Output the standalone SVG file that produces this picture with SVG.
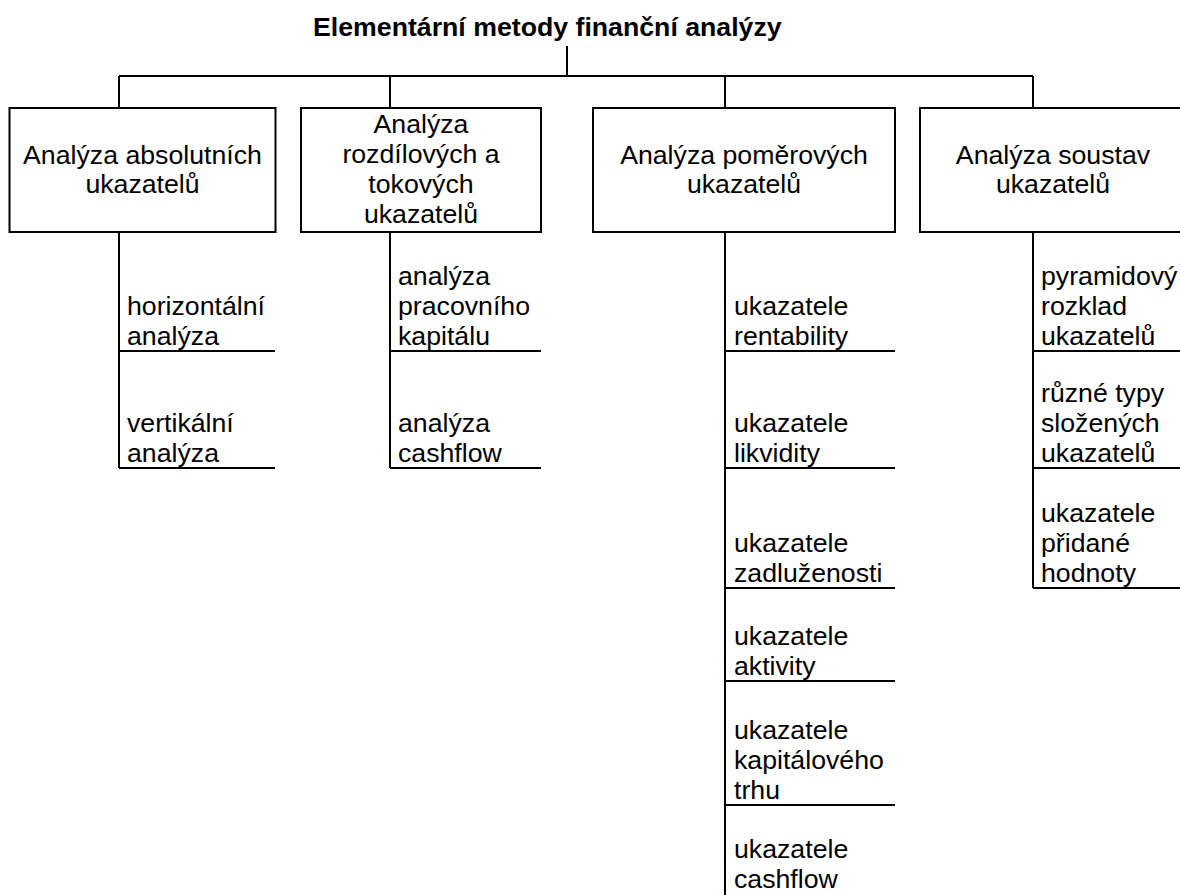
<svg xmlns="http://www.w3.org/2000/svg" width="1180" height="895" viewBox="0 0 1180 895">
<style>
  text { font-family: "Liberation Sans", Arial, sans-serif; font-size: 26.7px; fill: #000; }
  .title { font-weight: bold; }
  .c { text-anchor: middle; }
  .box { fill: #fff; stroke: #000; stroke-width: 2; }
  .ln { stroke: #000; stroke-width: 2; fill: none; }
</style>
<rect width="1180" height="895" fill="#fff"/>
<g id="title">
  <text class="title" x="313" y="36">Elementární metody finanční analýzy</text>
</g>
<g id="connectors">
  <path class="ln" d="M567 46 V76 M119 76 H1033 M119 76 V108 M390 76 V108 M725 76 V108 M1033 76 V108"/>
  <path class="ln" d="M119 232 V468 M119 351 H275 M119 468 H275"/>
  <path class="ln" d="M390 232 V468 M390 351 H541 M390 468 H541"/>
  <path class="ln" d="M725 232 V895 M725 351 H895 M725 468 H895 M725 588 H895 M725 681 H895 M725 805 H895"/>
  <path class="ln" d="M1033 232 V588 M1033 351 H1180 M1033 468 H1180 M1033 588 H1180"/>
</g>
<g id="box1">
  <rect class="box" x="9.5" y="108" width="266" height="124"/>
  <text class="c" x="142.5" y="164">Analýza absolutních</text>
  <text class="c" x="142.5" y="193">ukazatelů</text>
</g>
<g id="box2">
  <rect class="box" x="301" y="108" width="240" height="124"/>
  <text class="c" x="421" y="133">Analýza</text>
  <text class="c" x="421" y="163">rozdílových a</text>
  <text class="c" x="421" y="193">tokových</text>
  <text class="c" x="421" y="223">ukazatelů</text>
</g>
<g id="box3">
  <rect class="box" x="593" y="108" width="302" height="124"/>
  <text class="c" x="744" y="164">Analýza poměrových</text>
  <text class="c" x="744" y="193">ukazatelů</text>
</g>
<g id="box4">
  <rect class="box" x="920" y="108" width="266" height="124"/>
  <text class="c" x="1053" y="164">Analýza soustav</text>
  <text class="c" x="1053" y="193">ukazatelů</text>
</g>
<g id="b1-horizontalni">
  <text x="127" y="315">horizontální</text>
  <text x="127" y="345">analýza</text>
</g>
<g id="b1-vertikalni">
  <text x="127" y="432">vertikální</text>
  <text x="127" y="462">analýza</text>
</g>
<g id="b2-pracovni">
  <text x="398" y="285">analýza</text>
  <text x="398" y="315">pracovního</text>
  <text x="398" y="345">kapitálu</text>
</g>
<g id="b2-cashflow">
  <text x="398" y="432">analýza</text>
  <text x="398" y="462">cashflow</text>
</g>
<g id="b3-rentabilita">
  <text x="734" y="315">ukazatele</text>
  <text x="734" y="345">rentability</text>
</g>
<g id="b3-likvidita">
  <text x="734" y="432">ukazatele</text>
  <text x="734" y="462">likvidity</text>
</g>
<g id="b3-zadluzenost">
  <text x="734" y="552">ukazatele</text>
  <text x="734" y="582">zadluženosti</text>
</g>
<g id="b3-aktivita">
  <text x="734" y="645">ukazatele</text>
  <text x="734" y="675">aktivity</text>
</g>
<g id="b3-trh">
  <text x="734" y="739">ukazatele</text>
  <text x="734" y="769">kapitálového</text>
  <text x="734" y="799">trhu</text>
</g>
<g id="b3-cashflow">
  <text x="734" y="858">ukazatele</text>
  <text x="734" y="888">cashflow</text>
</g>
<g id="b4-pyramid">
  <text x="1041" y="285">pyramidový</text>
  <text x="1041" y="315">rozklad</text>
  <text x="1041" y="345">ukazatelů</text>
</g>
<g id="b4-slozene">
  <text x="1041" y="402">různé typy</text>
  <text x="1041" y="432">složených</text>
  <text x="1041" y="462">ukazatelů</text>
</g>
<g id="b4-pridana">
  <text x="1041" y="522">ukazatele</text>
  <text x="1041" y="552">přidané</text>
  <text x="1041" y="582">hodnoty</text>
</g>
</svg>
